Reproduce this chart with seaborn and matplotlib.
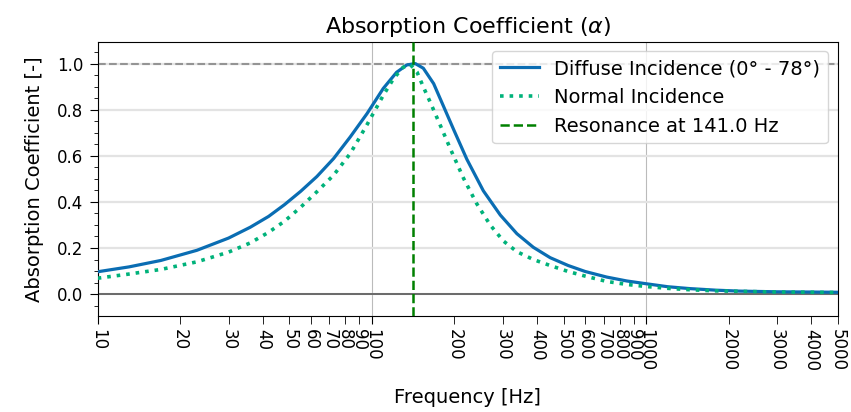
import numpy as np
import pandas as pd
import matplotlib
matplotlib.use("Agg")
import matplotlib.pyplot as plt
from matplotlib.ticker import LogLocator, FuncFormatter, MultipleLocator
import seaborn as sns

# valores
freq_d = [10, 13, 17, 23, 30, 36, 42, 48, 55, 63, 72.5, 83.4, 96, 110, 123,
          134, 144, 154, 168, 182, 199, 222, 255, 294, 338, 388, 447, 520,
          600, 718, 850, 1000, 1200, 1440, 1800, 2190, 3000, 4000, 5000]
difusa = [0.097, 0.118, 0.146, 0.190, 0.243, 0.290, 0.337, 0.388, 0.446,
          0.510, 0.588, 0.682, 0.783, 0.892, 0.962, 0.994, 1.000, 0.980,
          0.913, 0.818, 0.712, 0.585, 0.448, 0.343, 0.262, 0.203, 0.158,
          0.124, 0.098, 0.074, 0.057, 0.045, 0.032, 0.024, 0.017, 0.013,
          0.010, 0.009, 0.008]
freq_n = [10, 13, 17, 23, 30, 36, 42, 48, 55, 63, 72.5, 83.4, 96, 110, 120,
          130, 138, 146, 154, 163, 177.5, 193, 216, 241, 270, 302, 338, 388,
          447, 520, 600, 718, 850, 1000, 1200, 1440, 1800, 2190, 3000, 4000,
          5000]
normal = [0.069, 0.087, 0.107, 0.140, 0.182, 0.222, 0.268, 0.316, 0.377,
          0.444, 0.516, 0.610, 0.735, 0.862, 0.935, 0.984, 0.996, 0.964,
          0.899, 0.834, 0.733, 0.632, 0.502, 0.393, 0.300, 0.230, 0.184,
          0.150, 0.124, 0.098, 0.078, 0.055, 0.042, 0.033, 0.025, 0.019,
          0.014, 0.012, 0.009, 0.008, 0.007]
f_res = 141.0
x_ticks = [10, 20, 30, 40, 50, 60, 70, 80, 90, 100, 200, 300, 400, 500,
           600, 700, 800, 900, 1000, 2000, 3000, 4000, 5000]

df_d = pd.DataFrame({"f": freq_d, "alpha": difusa})
df_n = pd.DataFrame({"f": freq_n, "alpha": normal})

fig = plt.figure(figsize=(8.51, 4.12), dpi=100)
ax = fig.add_axes([0.1148, 0.233, 0.8696, 0.6658])

ax.axhline(0.0, color="#555555", lw=1.2, zorder=1)
ax.axhline(1.0, color="gray", ls="--", lw=1.5, alpha=0.8, zorder=1)

sns.lineplot(data=df_d, x="f", y="alpha", ax=ax, color="#0a6db3", lw=2.3,
             label="Diffuse Incidence (0° - 78°)", zorder=3)
sns.lineplot(data=df_n, x="f", y="alpha", ax=ax, color="#00b27a", lw=2.6,
             ls=":", label="Normal Incidence", zorder=3)
ax.axvline(f_res, color="green", ls="--", lw=1.8,
           label=f"Resonance at {f_res} Hz", zorder=4)

ax.set_xscale("log")
ax.set_xlim(10, 5000)
ax.set_ylim(-0.095, 1.095)

ax.xaxis.set_major_locator(LogLocator(base=10))
ax.xaxis.set_minor_locator(LogLocator(base=10, subs=np.arange(2, 10)))
fmt = FuncFormatter(lambda v, p: f"{v:g}" if round(v) in x_ticks else "")
ax.xaxis.set_major_formatter(fmt)
ax.xaxis.set_minor_formatter(fmt)
ax.tick_params(axis="x", which="both", rotation=-90, length=5.5, pad=4,
               labelsize=12)
ax.yaxis.set_major_locator(MultipleLocator(0.2))
ax.yaxis.set_minor_locator(MultipleLocator(0.05))
ax.tick_params(axis="y", which="major", length=5.5, pad=5, labelsize=12)
ax.tick_params(axis="y", which="minor", length=3)

ax.grid(axis="x", which="major", color="#bbbbbb", lw=0.8)
ax.grid(axis="y", which="major", color="#e3e3e3", lw=1.6)
ax.set_axisbelow(True)

ax.set_title(r"Absorption Coefficient ($\alpha$)", fontsize=16)
ax.set_xlabel("Frequency [Hz]", fontsize=14, labelpad=12)
ax.set_ylabel("Absorption Coefficient [-]", fontsize=14, labelpad=9)
ax.legend(loc="upper right", fontsize=14)

fig.savefig("out.png", dpi=100)
